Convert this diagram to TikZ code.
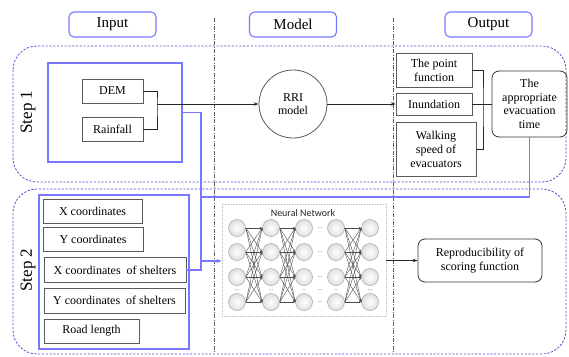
\documentclass[tikz,border=0pt]{standalone}
\usepackage{fontspec}
\setmainfont{Liberation Serif}
\newfontfamily\nnfont{Carlito}
\usepackage{tikz}
\usetikzlibrary{arrows.meta,positioning,calc}
\definecolor{frameblue}{RGB}{120,120,255}
\definecolor{stepblue}{RGB}{80,80,205}
\definecolor{boxgray}{RGB}{90,90,90}

\begin{document}
\begin{tikzpicture}[x=1pt, y=-1pt,
    head/.style={rectangle, rounded corners=5pt, minimum width=87pt, minimum height=25pt,
      draw=frameblue, line width=1.1pt, font=\fontsize{15}{17}\selectfont},
    stepframe/.style={draw=stepblue, line width=0.8pt, dash pattern=on 2.2pt off 1.6pt, rounded corners=24pt},
    inframe/.style={rectangle, draw=frameblue, line width=1.1pt, inner sep=0pt},
    databox/.style={rectangle, draw=boxgray, line width=0.8pt, inner sep=1pt, align=center,
      font=\fontsize{12}{14}\selectfont},
    resbox/.style={rectangle, rounded corners=7pt, draw=black!80, line width=0.8pt, inner sep=1pt,
      align=center, font=\fontsize{12}{13.5}\selectfont},
    steplabel/.style={rotate=90, font=\fontsize{17}{19}\selectfont},
    neuron/.style={circle, minimum size=17pt, inner sep=0pt, draw=gray!65, line width=0.6pt,
      inner color=white, outer color=gray!25},
    nnedge/.style={draw=gray!60!black, line width=0.4pt, -{Stealth[length=2.5pt, width=2.2pt]}},
    nndots/.style={font=\fontsize{6}{6}\selectfont, text=gray!60!black, inner sep=0pt},
    blueline/.style={draw=frameblue, line width=1.1pt},
    link/.style={draw=black!85, line width=0.7pt},
    arrowlink/.style={link, -{Stealth[length=5pt, width=3.5pt]}}
  ]
    \useasboundingbox (0,0) rectangle (569,356);

    % Column heads
    \node[head] (hin)  at (112.5,24.5) {Input};
    \node[head] (hmod) at (293,24.5)   {Model};
    \node[head] (hout) at (488.5,24.5) {Output};

    % Column separators
    \coordinate (sepa) at (214,18);
    \coordinate (sepb) at (393,18);
    \draw[boxgray, line width=0.6pt, dash pattern=on 4pt off 1.5pt on 0.8pt off 1.5pt] (sepa) -- ++(0,334);
    \draw[boxgray, line width=0.6pt, dash pattern=on 4pt off 1.5pt on 0.8pt off 1.5pt] (sepb) -- ++(0,334);

    % Step frames
    \draw[stepframe] (13,46) rectangle (566,182);
    \draw[stepframe] (13,189) rectangle (566,354);
    \node[steplabel] (s1) at (28,112) {Step 1};
    \node[steplabel] (s2) at (28,270) {Step 2};

    % Step 1 -- input
    \node[inframe, minimum width=134pt, minimum height=99pt] (in1) at (115,112.5) {};
    \node[databox, minimum width=61pt, minimum height=24pt] (dem)  at (112.5,91)  {DEM};
    \node[databox, minimum width=61pt, minimum height=24pt] (rain) at (112.5,129) {Rainfall};

    % Step 1 -- model
    \node[circle, draw=boxgray, line width=0.8pt, minimum size=68pt, align=center,
      font=\fontsize{12}{13.5}\selectfont] (rri) at (293,104) {RRI\\model};

    % Step 1 -- output
    \node[databox, minimum width=76pt, minimum height=34pt] (pfun) at (434,70)  {The point\\function};
    \node[databox, minimum width=76pt, minimum height=22pt] (inun) at (434,104) {Inundation};
    \node[databox, minimum width=80pt, minimum height=54pt] (walk) at (436,149) {Walking\\speed of\\evacuators};
    \node[resbox, minimum width=75pt, minimum height=66pt] (evac) at (529.5,104) {The\\appropriate\\evacuation\\time};

    % Step 2 -- input
    \node[inframe, minimum width=150pt, minimum height=154pt] (in2) at (114,272) {};
    \node[databox, minimum width=99pt, minimum height=24pt]  (xc)  at (92.5,211)  {X coordinates};
    \node[databox, minimum width=100pt, minimum height=24pt] (yc)  at (93,239)    {Y coordinates};
    \node[databox, minimum width=142pt, minimum height=25pt] (xs)  at (115,270) {X coordinates\ \ of shelters};
    \node[databox, minimum width=141pt, minimum height=25pt] (ys)  at (114.5,300.5) {Y coordinates\ \ of shelters};
    \node[databox, minimum width=95pt, minimum height=24pt]  (road) at (91.5,331)  {Road length};

    % Step 2 -- neural network
    \node[rectangle, draw=gray!45, densely dotted, line width=0.6pt, minimum width=164pt,
      minimum height=112pt] (nn) at (304,260) {};
    \node[font=\nnfont\fontsize{10}{11}\selectfont, text=black!85] (nntitle) at (303,213) {Neural Network};
    \foreach \c/\x in {1/237,2/271,3/304,4/336,5/370}
      \foreach \r/\y in {1/228,2/252,3/277,4/302}
        \node[neuron] (n\c\r) at (\x,\y) {};
    \foreach \c/\d in {1/2,2/3,4/5}
      \foreach \i in {1,...,4}
        \foreach \j in {1,...,4}
          \draw[nnedge] (n\c\i.east) -- (n\d\j.west);
    \foreach \y in {228,252,277,302}
      \node[nndots] at (320,\y) {...};
    \foreach \x in {237,271,304,320,336,370}
      \node[nndots] at (\x,290) {...};

    % Step 2 -- output
    \node[resbox, minimum width=124pt, minimum height=43pt] (repro) at (480,260.5) {Reproducibility of\\scoring function};

    % Step 1 links
    \coordinate (jin) at (157,104);
    \draw[link] (dem.east) -| (jin) |- (rain.east);
    \draw[arrowlink] (jin) -- (rri.west);
    \draw[arrowlink] (rri.east) -- (inun.west);
    \coordinate (jout) at (483,104);
    \draw[link] (pfun.east) -| (jout) |- (walk.east);
    \draw[link] (inun.east) -- (evac.west);

    % Blue links into step 2
    \coordinate (jblue) at (201,270);
    \coordinate (jtop) at (201,197);
    \draw[blueline] (in1.east) -| (jblue) -- (xs.east);
    \draw[blueline] (evac.south) |- (jtop);
    \draw[blueline, -{Stealth[length=5pt, width=4pt]}] (201,261) -- (nn.west |- 0,261);

    % Step 2 link
    \draw[arrowlink] (nn.east |- repro.west) -- (repro.west);

  \end{tikzpicture}
\end{document}
